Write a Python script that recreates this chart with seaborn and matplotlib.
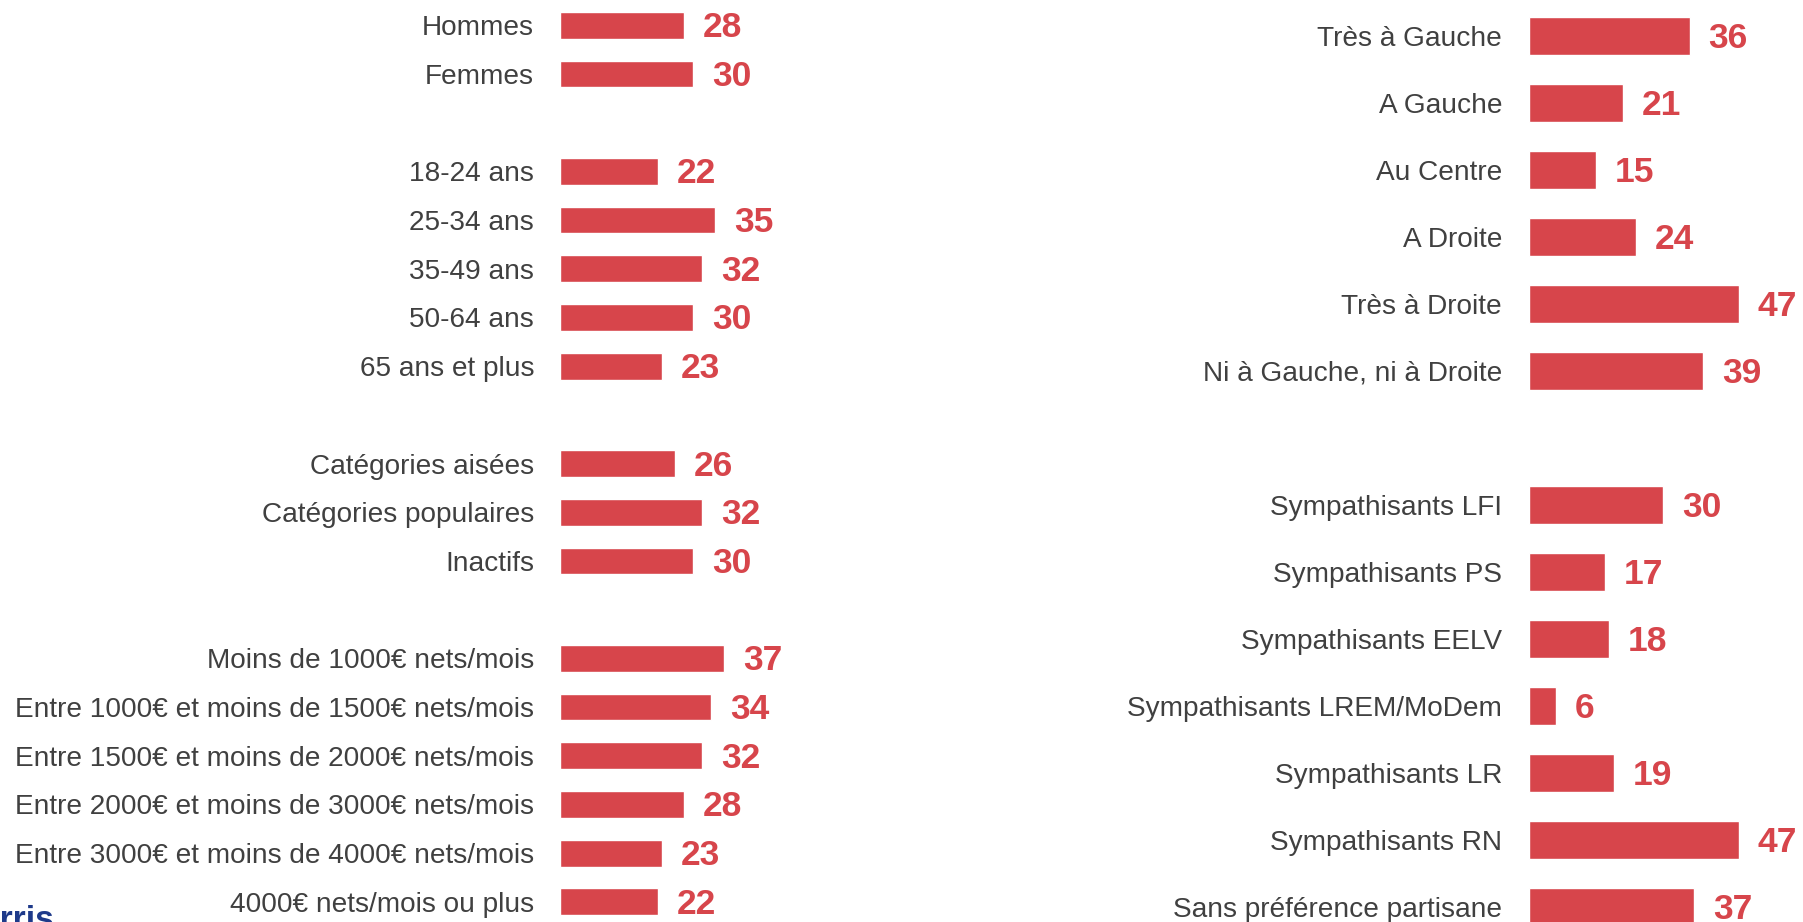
import pandas as pd
import matplotlib.pyplot as plt
import seaborn as sns

# left panel: socio-demographic groups
left_groups = [
    ["Hommes", "Femmes"],
    ["18-24 ans", "25-34 ans", "35-49 ans", "50-64 ans", "65 ans et plus"],
    ["Catégories aisées", "Catégories populaires", "Inactifs"],
    ["Moins de 1000€ nets/mois", "Entre 1000€ et moins de 1500€ nets/mois",
     "Entre 1500€ et moins de 2000€ nets/mois", "Entre 2000€ et moins de 3000€ nets/mois",
     "Entre 3000€ et moins de 4000€ nets/mois", "4000€ nets/mois ou plus"],
]
left_values = [
    [28, 30],
    [22, 35, 32, 30, 23],
    [26, 32, 30],
    [37, 34, 32, 28, 23, 22],
]

# right panel: political positioning / party proximity
right_groups = [
    ["Très à Gauche", "A Gauche", "Au Centre", "A Droite", "Très à Droite",
     "Ni à Gauche, ni à Droite"],
    ["Sympathisants LFI", "Sympathisants PS", "Sympathisants EELV",
     "Sympathisants LREM/MoDem", "Sympathisants LR", "Sympathisants RN",
     "Sans préférence partisane"],
]
right_values = [
    [36, 21, 15, 24, 47, 39],
    [30, 17, 18, 6, 19, 47, 37],
]

RED = "#D7454B"
GREY = "#404040"


def build_frame(groups, values):
    rows = []
    for g, (labels, vals) in enumerate(zip(groups, values)):
        if g > 0:
            rows.append({"label": " " * g, "value": 0, "blank": True})
        for lab, v in zip(labels, vals):
            rows.append({"label": lab, "value": v, "blank": False})
    return pd.DataFrame(rows)


sns.set_theme(style="white")
plt.rcParams["font.family"] = ["Liberation Sans", "DejaVu Sans"]

W, H = 1803, 922
fig = plt.figure(figsize=(W / 100, H / 100), dpi=100)


def panel(df, x0, top, pitch, px_per_unit, bar_h, pad):
    n = len(df)
    xmax = 50
    height = n * pitch
    ax = fig.add_axes([x0 / W, (H - top - height) / H, xmax * px_per_unit / W, height / H])
    sns.barplot(data=df, x="value", y="label", order=list(df["label"]), orient="h",
                color=RED, saturation=1, width=bar_h, ax=ax)
    ax.set_xlim(0, xmax)
    ax.set_ylim(n - 0.5, -0.5)
    ax.set_xlabel("")
    ax.set_ylabel("")
    ax.set_xticks([])
    sns.despine(ax=ax, left=True, bottom=True)
    ax.tick_params(axis="y", length=0, pad=pad, labelsize=20.2, labelcolor=GREY)
    for i, row in df.iterrows():
        if row["blank"]:
            continue
        ax.annotate(f"{row['value']}", (row["value"], i), xytext=(13.5, -1.8),
                    textcoords="offset points", va="center", ha="left",
                    fontsize=25.5, fontweight="bold", color=RED)
    return ax


left_df = build_frame(left_groups, left_values)
right_df = build_frame(right_groups, right_values)

panel(left_df, 560, 0.9, 48.7, 4.44, 0.55, 18.7)
panel(right_df, 1529, 2.2, 67.0, 4.47, 0.57, 19.4)

# partly cut logo at the bottom-left corner
fig.text(55 / W, 1 - 905 / H, "Harris", ha="right", va="top", fontsize=24,
         fontweight="bold", color="#1E3A8A")

fig.savefig("out.png", dpi=100)
